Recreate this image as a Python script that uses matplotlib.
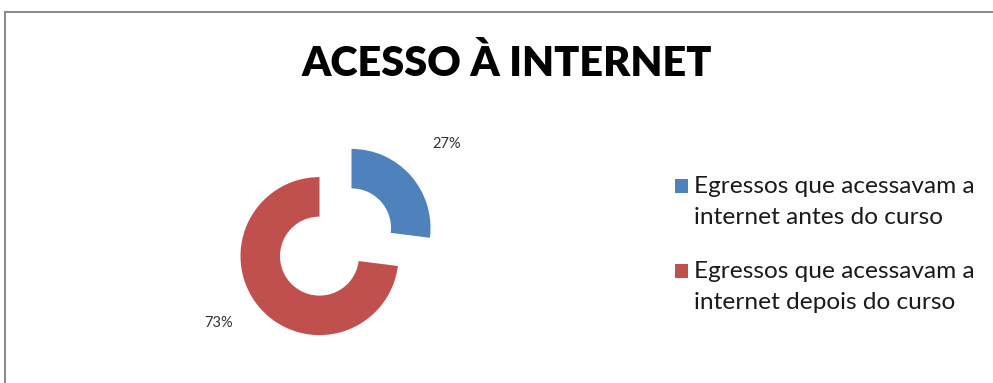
import matplotlib
matplotlib.use("Agg")
import matplotlib.pyplot as plt
from matplotlib.patches import Rectangle

title = "ACESSO À INTERNET"
categories = ["Egressos que acessavam a\ninternet antes do curso",
              "Egressos que acessavam a\ninternet depois do curso"]
values = [27, 73]
colors = ["#4F81BD", "#C0504D"]

W, H = 993, 383
fig = plt.figure(figsize=(W / 100, H / 100), dpi=100)
fig.patch.set_facecolor("white")

# border (left and top visible)
fig.add_artist(plt.Line2D([5 / W, 5 / W], [0, 1 - 12 / H], color="#8c8c8c", lw=1.5, transform=fig.transFigure))
fig.add_artist(plt.Line2D([5 / W, 1], [1 - 12 / H, 1 - 12 / H], color="#8c8c8c", lw=1.5, transform=fig.transFigure))

fig.text(507 / W, 1 - 64 / H, title, ha="center", va="center", fontsize=29.8,
         fontweight="heavy", family="Lato", color="black")

cx, cy, R = 335.5, 242, 79
half = 125
ax = fig.add_axes([(cx - half) / W, (H - cy - half) / H, 2 * half / W, 2 * half / H])
wedges, texts, autotexts = ax.pie(values, colors=colors, startangle=90, counterclock=False,
                                  explode=[0.27, 0.27], radius=1,
                                  wedgeprops=dict(width=0.5, linewidth=0),
                                  autopct=lambda p: f"{p:.0f}%", pctdistance=1.6,
                                  textprops=dict(fontsize=10.5, family="Lato", color="#333333"))
# nudge the lower label as in the reference
x, y = autotexts[1].get_position()
autotexts[1].set_position((x - 0.08, y + 0.21))
L = half / R
ax.set_xlim(-L, L)
ax.set_ylim(-L, L)
ax.axis("off")

# legend (square aligned with first text line, as in the reference)
item_baselines = [193, 278]
line_gap = 31
for lab, col, b in zip(categories, colors, item_baselines):
    fig.add_artist(Rectangle((675 / W, 1 - (b - 0.5) / H), 13 / W, 14 / H,
                             transform=fig.transFigure, facecolor=col, edgecolor="none"))
    for i, line in enumerate(lab.split("\n")):
        fig.text(694 / W, 1 - (b + i * line_gap) / H, line, ha="left", va="baseline",
                 fontsize=17.6, family="Lato", color="#1a1a1a")

fig.savefig("out.png", dpi=100)
